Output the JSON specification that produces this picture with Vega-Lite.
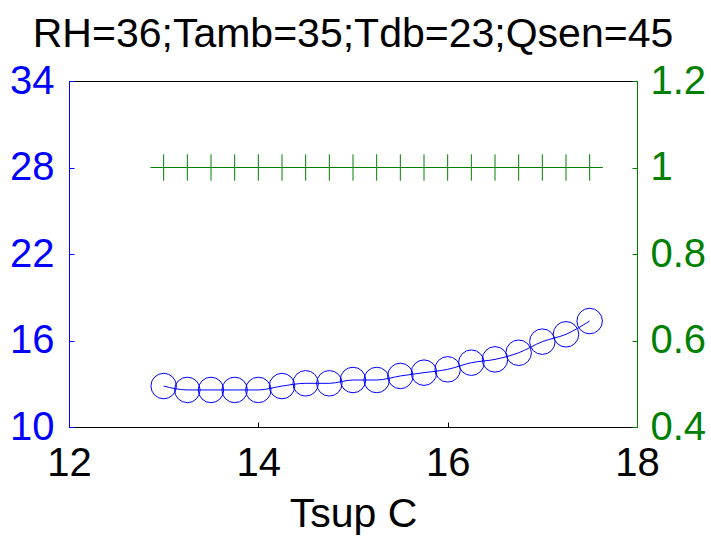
{
  "$schema": "https://vega.github.io/schema/vega-lite/v6.json",
  "width": 568,
  "height": 346,
  "autosize": "none",
  "padding": {"left": 69, "top": 81, "right": 74, "bottom": 115},
  "background": "white",
  "config": {
    "view": {"stroke": "black", "strokeWidth": 1},
    "font": "Liberation Sans",
    "axis": {"grid": false, "labelFont": "Liberation Sans", "titleFont": "Liberation Sans", "labelFlush": false, "labelOverlap": false}
  },
  "title": {
    "text": "RH=36;Tamb=35;Tdb=23;Qsen=45",
    "fontSize": 41,
    "fontWeight": "normal",
    "font": "Liberation Sans",
    "color": "black",
    "anchor": "middle",
    "baseline": "alphabetic",
    "offset": -27
  },
  "data": {
    "values": [
      {"Tsup": 13.0, "T": 12.84, "R": 1},
      {"Tsup": 13.25, "T": 12.57, "R": 1},
      {"Tsup": 13.5, "T": 12.57, "R": 1},
      {"Tsup": 13.75, "T": 12.57, "R": 1},
      {"Tsup": 14.0, "T": 12.57, "R": 1},
      {"Tsup": 14.25, "T": 12.84, "R": 1},
      {"Tsup": 14.5, "T": 13.03, "R": 1},
      {"Tsup": 14.75, "T": 13.03, "R": 1},
      {"Tsup": 15.0, "T": 13.26, "R": 1},
      {"Tsup": 15.25, "T": 13.26, "R": 1},
      {"Tsup": 15.5, "T": 13.54, "R": 1},
      {"Tsup": 15.75, "T": 13.77, "R": 1},
      {"Tsup": 16.0, "T": 14.0, "R": 1},
      {"Tsup": 16.25, "T": 14.46, "R": 1},
      {"Tsup": 16.5, "T": 14.69, "R": 1},
      {"Tsup": 16.75, "T": 15.15, "R": 1},
      {"Tsup": 17.0, "T": 15.92, "R": 1},
      {"Tsup": 17.25, "T": 16.43, "R": 1},
      {"Tsup": 17.5, "T": 17.35, "R": 1}
    ]
  },
  "encoding": {
    "x": {
      "field": "Tsup",
      "type": "quantitative",
      "scale": {"domain": [12, 18], "nice": false, "zero": false},
      "axis": {
        "title": "Tsup C",
        "values": [12, 14, 16, 18],
        "tickSize": -5,
        "tickColor": "black",
        "domainColor": "black",
        "labelPadding": 21,
        "labelFontSize": 40,
        "labelColor": "black",
        "titleFontSize": 41,
        "titleFontWeight": "normal",
        "titleColor": "black",
        "titlePadding": 11
      }
    }
  },
  "layer": [
    {
      "encoding": {
        "y": {
          "field": "T",
          "type": "quantitative",
          "scale": {"domain": [10, 34], "nice": false, "zero": false},
          "axis": {
            "orient": "left",
            "title": null,
            "values": [10, 16, 22, 28, 34],
            "tickSize": -5,
            "tickColor": "#0000FF",
            "domainColor": "#0000FF",
            "labelPadding": 20,
            "labelFontSize": 40,
            "labelColor": "#0000FF"
          }
        }
      },
      "layer": [
        {"mark": {"type": "line", "color": "#0000FF", "strokeWidth": 1, "interpolate": "monotone"}},
        {"mark": {"type": "point", "shape": "circle", "filled": false, "stroke": "#0000FF", "strokeWidth": 1, "size": 650, "opacity": 1}}
      ]
    },
    {
      "encoding": {
        "y": {
          "field": "R",
          "type": "quantitative",
          "scale": {"domain": [0.4, 1.2], "nice": false, "zero": false},
          "axis": {
            "orient": "right",
            "title": null,
            "values": [0.4, 0.6, 0.8, 1, 1.2],
            "format": "~g",
            "tickSize": -5,
            "tickColor": "#008000",
            "domainColor": "#008000",
            "labelPadding": 18,
            "labelFontSize": 40,
            "labelColor": "#008000"
          }
        }
      },
      "layer": [
        {"mark": {"type": "line", "color": "#008000", "strokeWidth": 1}},
        {"mark": {"type": "point", "shape": "M-1,0L1,0M0,-1L0,1", "filled": false, "stroke": "#008000", "strokeWidth": 1, "size": 700, "opacity": 1}}
      ]
    }
  ],
  "resolve": {"scale": {"y": "independent"}}
}
